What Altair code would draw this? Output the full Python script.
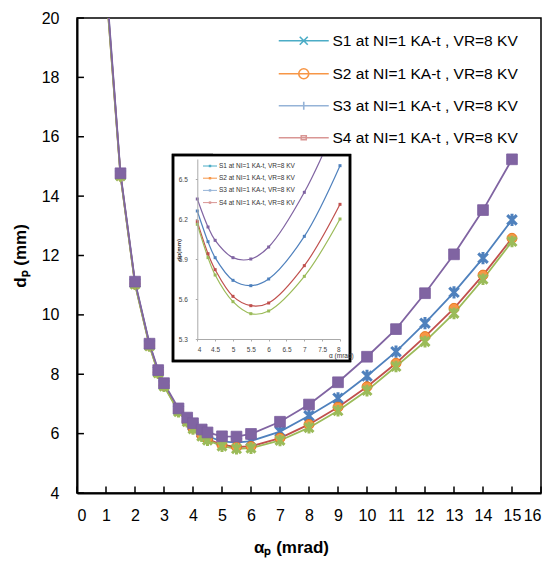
import altair as alt
import pandas as pd

# ---------------- data ----------------
alpha = [1, 1.5, 2, 2.5, 2.8, 3, 3.5, 3.8, 4, 4.3, 4.5, 5, 5.5, 6, 7, 8, 9, 10, 11, 12, 13, 14, 15]
s1 = [21.2, 14.72, 11.08, 9.00, 8.10, 7.65, 6.80, 6.47, 6.26, 6.03, 5.91, 5.74, 5.70, 5.75, 6.07, 6.60, 7.19, 7.94, 8.76, 9.72, 10.76, 11.91, 13.20]
s2 = [21.1, 14.70, 11.05, 8.97, 8.06, 7.62, 6.76, 6.42, 6.18, 5.94, 5.82, 5.62, 5.55, 5.57, 5.85, 6.31, 6.89, 7.58, 8.37, 9.27, 10.22, 11.34, 12.58]
s3 = [21.05, 14.68, 11.03, 8.95, 8.04, 7.60, 6.74, 6.40, 6.16, 5.91, 5.78, 5.58, 5.49, 5.51, 5.77, 6.20, 6.77, 7.45, 8.26, 9.10, 10.05, 11.20, 12.47]
s4 = [21.3, 14.77, 11.12, 9.03, 8.14, 7.70, 6.85, 6.54, 6.35, 6.14, 6.04, 5.91, 5.90, 5.99, 6.40, 6.98, 7.73, 8.59, 9.52, 10.73, 12.04, 13.53, 15.24]

series_names = ["S1", "S2", "S3", "S4"]
legend_labels = ["S1 at NI=1 KA-t , VR=8 KV", "S2  at NI=1 KA-t , VR=8 KV",
                 "S3  at NI=1 KA-t , VR=8 KV", "S4  at NI=1 KA-t , VR=8 KV"]
inset_labels = ["S1 at NI=1 KA-t, VR=8 KV", "S2 at NI=1 KA-t, VR=8 KV",
                "S3 at NI=1 KA-t, VR=8 KV", "S4 at NI=1 KA-t, VR=8 KV"]
x_ticks = list(range(0, 17))
y_ticks = list(range(4, 21, 2))
inset_x_ticks = [4, 4.5, 5, 5.5, 6, 6.5, 7, 7.5, 8]
inset_y_ticks = [5.3, 5.6, 5.9, 6.2, 6.5]

# ---------------- styles ----------------
FONT = "Liberation Sans, Arial, sans-serif"
line_colors = {"S1": "#4F81BD", "S2": "#C0504D", "S3": "#9BBB59", "S4": "#8064A2"}
legend_colors = ["#4BACC6", "#F79646", "#95B3D7", "#D99694"]
ASTER = "M-1,-1L1,1M-1,1L1,-1M0,-1.3L0,1.3"
marker_style = {
    "S1": dict(shape=ASTER, size=90, filled=False, stroke="#4F81BD", strokeWidth=3),
    "S2": dict(shape="circle", size=100, filled=True, fill="#F79646", stroke="#E46C0A", strokeWidth=0.8),
    "S3": dict(shape=ASTER, size=80, filled=False, stroke="#9BBB59", strokeWidth=3),
    "S4": dict(shape="square", size=115, filled=True, fill="#8064A2", stroke="#7B5E9E", strokeWidth=0.8),
}
legend_paths = [
    "M-5,0L5,0M-0.8,-0.8L0.8,0.8M-0.8,0.8L0.8,-0.8",
    "M-5,0L5,0M-1,0A1,1 0 1,0 1,0A1,1 0 1,0 -1,0Z",
    "M-5,0L5,0M-0.8,0L0.8,0M0,-0.8L0,0.8",
    "M-5,0L5,0M-0.5,-0.4L0.5,-0.4L0.5,0.4L-0.5,0.4Z",
]

W, H = 464, 475

rows = []
for name, vals in zip(series_names, [s1, s2, s3, s4]):
    for a, v in zip(alpha, vals):
        rows.append({"alpha": a, "d": v, "series": name})
df = pd.DataFrame(rows)
base = alt.Chart(df)

# ---------------- main chart ----------------
x_axis = alt.Axis(values=x_ticks, tickCount=17, ticks=False, grid=False, labelPadding=14, labelFont=FONT,
                  labelFontSize=16, labelColor="black", domainColor="black", domainWidth=2,
                  labelOverlap=False, labelSeparation=0, format="d",
                  title="αₚ (mrad)", titleFont=FONT, titleFontSize=17, titleFontWeight="bold",
                  titleColor="black", titlePadding=16, titleX=214, orient="bottom")
y_axis = alt.Axis(values=y_ticks, ticks=False, grid=False, labelPadding=18, labelFont=FONT,
                  labelFontSize=16, labelColor="black", domainColor="black", domainWidth=2,
                  labelOverlap=False, format="d",
                  title="dₚ (mm)", titleFont=FONT, titleFontSize=17, titleFontWeight="bold",
                  titleColor="black", titlePadding=12, orient="left")
xs = alt.Scale(domain=[0, 16], nice=False)
ys = alt.Scale(domain=[4, 20], nice=False)

main_layers = []
for name in series_names:
    main_layers.append(
        base.transform_filter(alt.datum.series == name)
        .mark_line(color=line_colors[name], strokeWidth=1.8, clip=True)
        .encode(x=alt.X("alpha:Q", scale=xs, axis=x_axis), y=alt.Y("d:Q", scale=ys, axis=y_axis))
    )
for name in series_names:
    main_layers.append(
        base.transform_filter(alt.datum.series == name)
        .mark_point(opacity=1, clip=True, **marker_style[name])
        .encode(x=alt.X("alpha:Q", scale=xs, axis=x_axis), y=alt.Y("d:Q", scale=ys, axis=y_axis))
    )

# inward ticks
xt = alt.Chart(pd.DataFrame({"t": x_ticks})).mark_rule(color="black", strokeWidth=1.5).encode(
    x=alt.X("t:Q", scale=xs, axis=x_axis), y=alt.datum(4), y2=alt.datum(4.22))
yt = alt.Chart(pd.DataFrame({"t": y_ticks})).mark_rule(color="black", strokeWidth=1.5).encode(
    y=alt.Y("t:Q", scale=ys, axis=y_axis), x=alt.datum(0), x2=alt.datum(0.24))
main_layers += [xt, yt]

# legend
leg = alt.Legend(title=None, orient="none", legendX=219, legendY=15, symbolSize=100,
                 symbolStrokeWidth=1.6, labelFont=FONT, labelFontSize=15.5, labelColor="black",
                 labelOffset=21, rowPadding=15, padding=0, labelLimit=400)
leg_df = pd.DataFrame({"label": legend_labels})
legend_layer = alt.Chart(leg_df).mark_point(opacity=0).encode(
    fill=alt.Fill("label:N", scale=alt.Scale(domain=legend_labels, range=legend_colors), legend=leg),
    stroke=alt.Stroke("label:N", scale=alt.Scale(domain=legend_labels, range=legend_colors), legend=leg),
    shape=alt.Shape("label:N", scale=alt.Scale(domain=legend_labels, range=legend_paths), legend=leg),
)
main_layers.append(legend_layer)
main = alt.layer(*main_layers)

# ---------------- inset ----------------
BOX = dict(x0=96, x1=273, y0=137, y1=343)
IX0, IX1 = 120.3, 263
IY0, IY1 = 321, 141
ixs = alt.Scale(domain=[4, 8], range=[IX0, IX1], nice=False)
iys = alt.Scale(domain=[5.3, 6.65], range=[IY0, IY1], nice=False)
SMALL = FONT
ix_axis = alt.Axis(orient="bottom", offset=-(H - IY0), values=inset_x_ticks, grid=False, title=None,
                   format=".1~f",
                   labelFont=SMALL, labelFontSize=6.5, labelColor="#444", domainColor="#aaa",
                   tickColor="#aaa", tickSize=2, labelPadding=5, domainWidth=1, zindex=1,
                   labelOverlap=False)
iy_axis = alt.Axis(orient="left", offset=-IX0, values=inset_y_ticks, grid=False, title=None, format=".1f",
                   labelFont=SMALL, labelFontSize=6.5, labelColor="#444", domainColor="#aaa",
                   tickColor="#aaa", tickSize=2, labelPadding=8, domainWidth=1, zindex=1,
                   labelOverlap=False)
ibase = base.transform_filter((alt.datum.alpha >= 4) & (alt.datum.alpha <= 8))

one = alt.Chart(pd.DataFrame({"a": [0]}))
inset_layers = [
    one.mark_rect(fill="white", stroke="black", strokeWidth=2.5).encode(
        x=alt.value(BOX["x0"]), x2=alt.value(BOX["x1"]), y=alt.value(BOX["y0"]), y2=alt.value(BOX["y1"]))
]
for name in series_names:
    inset_layers.append(
        ibase.transform_filter(alt.datum.series == name)
        .mark_line(color=line_colors[name], strokeWidth=1.2, interpolate="catmull-rom")
        .encode(x=alt.X("alpha:Q", scale=ixs, axis=ix_axis), y=alt.Y("d:Q", scale=iys, axis=iy_axis))
    )
for name in series_names:
    inset_layers.append(
        ibase.transform_filter(alt.datum.series == name)
        .mark_point(filled=True, size=9, shape="square", color=line_colors[name], opacity=1)
        .encode(x=alt.X("alpha:Q", scale=ixs, axis=ix_axis), y=alt.Y("d:Q", scale=iys, axis=iy_axis))
    )
# mask the curves leaving the inset, then redraw border
inset_layers.append(one.mark_rect(fill="white").encode(
    x=alt.value(BOX["x0"] + 40), x2=alt.value(BOX["x1"] + 3), y=alt.value(60), y2=alt.value(BOX["y0"] - 1)))
inset_layers.append(one.mark_rect(fill=None, stroke="black", strokeWidth=2.5).encode(
    x=alt.value(BOX["x0"]), x2=alt.value(BOX["x1"]), y=alt.value(BOX["y0"]), y2=alt.value(BOX["y1"])))
# inset legend
for i, (lab, col) in enumerate(zip(inset_labels, legend_colors)):
    yy = 148 + 12.2 * i
    inset_layers.append(one.mark_rule(color=col, strokeWidth=1).encode(
        x=alt.value(126), x2=alt.value(140), y=alt.value(yy)))
    inset_layers.append(one.mark_point(filled=True, shape="square", size=6, color=col, opacity=1).encode(
        x=alt.value(133), y=alt.value(yy)))
    inset_layers.append(one.mark_text(text=lab, align="left", baseline="middle", font=SMALL,
                                      fontSize=6.5, color="#333").encode(x=alt.value(142), y=alt.value(yy)))
inset_layers.append(one.mark_text(text="dp(mm)", angle=270, font=SMALL, fontSize=6, fontWeight="bold",
                                  color="#333").encode(x=alt.value(102), y=alt.value(232)))
inset_layers.append(one.mark_text(text="α (mrad)", align="left", font=SMALL, fontSize=6.5,
                                  color="#333").encode(x=alt.value(252), y=alt.value(338)))
inset = alt.layer(*inset_layers)

chart = (
    alt.layer(main, inset)
    .resolve_scale(x="independent", y="independent")
    .properties(width=W, height=H, padding={"left": 69, "top": 10, "right": 5, "bottom": 67},
                autosize=alt.AutoSizeParams(type="none"), background="white")
    .configure_view(stroke="black", strokeWidth=1.5)
    .configure_axisX(labelOverlap=False)
)

chart.save("out.html", embed_options={"renderer": "svg", "actions": False})
